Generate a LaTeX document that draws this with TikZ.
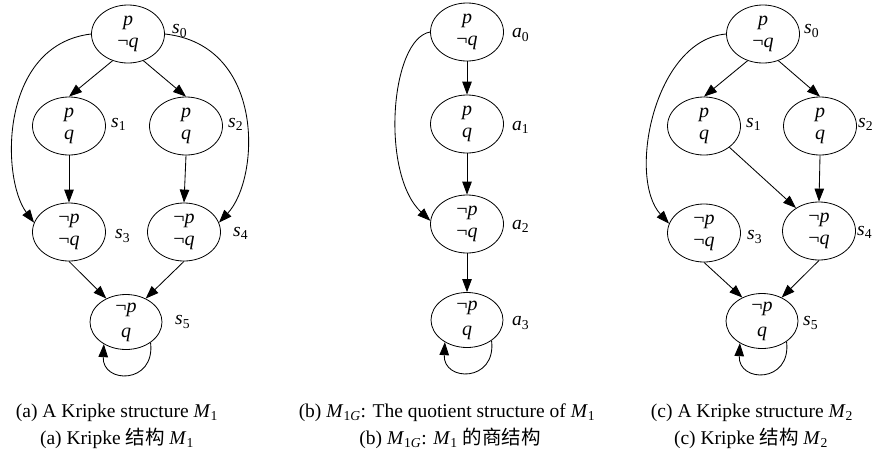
\documentclass[tikz,border=0pt]{standalone}
\usepackage{fontspec}
\setmainfont{Liberation Serif}
\newfontfamily\cjk{Noto Sans CJK SC}
\usetikzlibrary{shapes.geometric,arrows.meta}
\begin{document}
\begin{tikzpicture}[x=1pt,y=-1pt,
  st/.style={ellipse,draw,line width=0.8pt,minimum width=73pt,minimum height=58pt,inner sep=0pt,align=center,font=\fontsize{20}{21.5}\selectfont},
  stb/.style={st,minimum width=72pt,minimum height=55pt,font=\fontsize{20}{25}\selectfont},
  lab/.style={font=\fontsize{19.5}{22}\selectfont,inner sep=0pt,anchor=west},
  captxt/.style={font=\fontsize{19.5}{22}\selectfont,inner sep=0pt},
  arr/.style={line width=0.85pt,-{Triangle[length=13pt,width=9.5pt]}},
]
\useasboundingbox (0,0) rectangle (874,455);
% ---------- panel (a)
\node[st] (s0) at (128,34) {\textit{p}\\¬\textit{q}};
\node[st] (s1) at (69,126) {\textit{p}\\\textit{q}};
\node[st] (s2) at (186,126) {\textit{p}\\\textit{q}};
\node[st] (s3) at (69,232) {¬\textit{p}\\¬\textit{q}};
\node[st] (s4) at (184,232) {¬\textit{p}\\¬\textit{q}};
\node[stb] (s5) at (126,322) {¬\textit{p}\\\textit{q}};
\node[lab] (ls0) at (172,31) {\textit{s}\textsubscript{0}};
\node[lab] (ls1) at (111,124) {\textit{s}\textsubscript{1}};
\node[lab] (ls2) at (228,124) {\textit{s}\textsubscript{2}};
\node[lab] (ls3) at (115,236) {\textit{s}\textsubscript{3}};
\node[lab] (ls4) at (233,233) {\textit{s}\textsubscript{4}};
\node[lab] (ls5) at (175,322) {\textit{s}\textsubscript{5}};
\draw[arr] (s0.-120) -- (s1.north);
\draw[arr] (s0.-60) -- (s2.north);
\draw[arr] (s1.south) -- (s3.north);
\draw[arr] (s2.south) -- (s4.north);
\draw[arr] (s3.south) -- (s5.130);
\draw[arr] (s4.south) -- (s5.50);
\draw[arr] (s0.west) .. controls +(-92,11) and +(-33,-44) .. (s3.165);
\draw[arr] (s0.east) .. controls +(101,11) and +(41,-44) .. (s4.15);
\draw[arr] (s5.-40) .. controls +(5,42) and +(-2,40) .. (s5.-135);
\node[captxt] (capa1) at (117,413) {(a) A Kripke structure \textit{M}\textsubscript{1}};
\node[captxt] (capa2) at (117,438) {(a) Kripke {\cjk 结构} \textit{M}\textsubscript{1}};
% ---------- panel (b)
\node[st] (a0) at (467,32) {\textit{p}\\¬\textit{q}};
\node[st] (a1) at (467,124) {\textit{p}\\\textit{q}};
\node[st] (a2) at (467,224) {¬\textit{p}\\¬\textit{q}};
\node[stb] (a3) at (467,320) {¬\textit{p}\\\textit{q}};
\node[lab] (la0) at (512,35) {\textit{a}\textsubscript{0}};
\node[lab] (la1) at (512,127) {\textit{a}\textsubscript{1}};
\node[lab] (la2) at (512,226) {\textit{a}\textsubscript{2}};
\node[lab] (la3) at (512,323) {\textit{a}\textsubscript{3}};
\draw[arr] (a0.south) -- (a1.north);
\draw[arr] (a1.south) -- (a2.north);
\draw[arr] (a2.south) -- (a3.north);
\draw[arr] (a0.west) .. controls +(-40,7) and +(-50,-47) .. (a2.175);
\draw[arr] (a3.-40) .. controls +(5,42) and +(-2,40) .. (a3.-135);
\node[captxt] (capb1) at (447,413) {(b) \textit{M}\textsubscript{1\textit{G}}: The quotient structure of \textit{M}\textsubscript{1}};
\node[captxt] (capb2) at (450,438) {(b) \textit{M}\textsubscript{1\textit{G}}: \textit{M}\textsubscript{1} {\cjk 的商结构}};
% ---------- panel (c)
\node[st] (c0) at (763,34) {\textit{p}\\¬\textit{q}};
\node[st] (c1) at (704,126) {\textit{p}\\\textit{q}};
\node[st] (c2) at (820,126) {\textit{p}\\\textit{q}};
\node[st] (c3) at (704,233) {¬\textit{p}\\¬\textit{q}};
\node[st] (c4) at (819,231) {¬\textit{p}\\¬\textit{q}};
\node[stb] (c5) at (762,321) {¬\textit{p}\\\textit{q}};
\node[lab] (lc0) at (804,31) {\textit{s}\textsubscript{0}};
\node[lab] (lc1) at (746,124) {\textit{s}\textsubscript{1}};
\node[lab] (lc2) at (858,124) {\textit{s}\textsubscript{2}};
\node[lab] (lc3) at (747,237) {\textit{s}\textsubscript{3}};
\node[lab] (lc4) at (857,232) {\textit{s}\textsubscript{4}};
\node[lab] (lc5) at (803,323) {\textit{s}\textsubscript{5}};
\draw[arr] (c0.-120) -- (c1.north);
\draw[arr] (c0.-60) -- (c2.north);
\draw[arr] (c1.-40) -- (c4.135);
\draw[arr] (c2.south) -- (c4.north);
\draw[arr] (c3.south) -- (c5.130);
\draw[arr] (c4.south) -- (c5.50);
\draw[arr] (c0.west) .. controls +(-72,6) and +(-42,-46) .. (c3.165);
\draw[arr] (c5.-40) .. controls +(5,42) and +(-2,40) .. (c5.-135);
\node[captxt] (capc1) at (752,413) {(c) A Kripke structure \textit{M}\textsubscript{2}};
\node[captxt] (capc2) at (751,438) {(c) Kripke {\cjk 结构} \textit{M}\textsubscript{2}};
\end{tikzpicture}
\end{document}
